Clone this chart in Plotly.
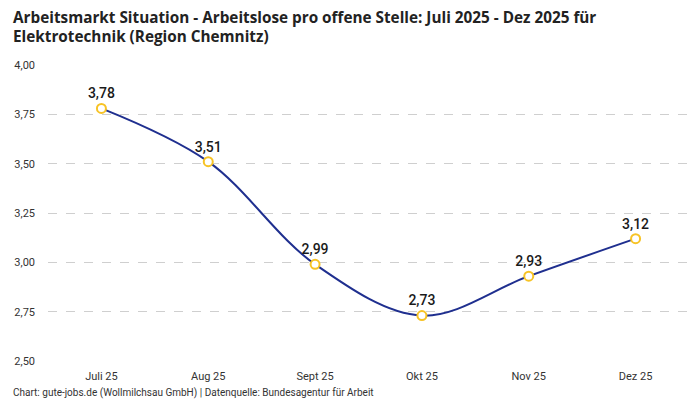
import plotly.graph_objects as go

months = ["Juli 25", "Aug 25", "Sept 25", "Okt 25", "Nov 25", "Dez 25"]
ratio = [3.78, 3.51, 2.99, 2.73, 2.93, 3.12]
y_ticks = [2.50, 2.75, 3.00, 3.25, 3.50, 3.75, 4.00]
title_lines = [
    "Arbeitsmarkt Situation - Arbeitslose pro offene Stelle: Juli 2025 - Dez 2025 für",
    "Elektrotechnik (Region Chemnitz)",
]

fmt = lambda v: f"{v:.2f}".replace(".", ",")

fig = go.Figure()
fig.add_trace(go.Scatter(
    x=months, y=ratio,
    mode="lines+markers+text",
    line=dict(color="#1f2f8f", width=2, shape="spline", smoothing=1),
    marker=dict(size=9, color="white", line=dict(color="#f7c325", width=2)),
    text=[fmt(v) for v in ratio],
    textposition="top center",
    textfont=dict(family="Roboto", size=14, color="#1a1a1a", weight=500),
    cliponaxis=False,
    showlegend=False,
))

# the page puts the figure 8px in from the top-left corner, margins allow for that
fig.update_layout(
    width=700, height=400,
    margin=dict(l=39.5, r=18.5, t=57, b=47, autoexpand=False),
    plot_bgcolor="white", paper_bgcolor="white",
    font=dict(family="Roboto", color="#333"),
    xaxis=dict(
        range=[-0.5, 5.5], showgrid=False, showline=False, ticks="",
        ticklabelstandoff=7,
        tickfont=dict(size=11, color="#333"), automargin=False,
    ),
    yaxis=dict(
        range=[2.5, 4.0], tickvals=y_ticks, ticktext=[fmt(v) for v in y_ticks],
        showgrid=True, gridcolor="#cfcfcf", griddash="dash", gridwidth=1,
        zeroline=False, showline=False, ticks="", ticklabelstandoff=12,
        tickfont=dict(size=11, color="#333"), automargin=False,
    ),
)

# title: one annotation per line so the line gap matches
for i, line in enumerate(title_lines):
    fig.add_annotation(
        text=f"<b>{line}</b>",
        xref="paper", yref="paper", x=-0.058, y=1.203 - i * 0.065,
        xanchor="left", yanchor="top", align="left", showarrow=False,
        font=dict(family="Open Sans", size=15.3, color="#222"),
    )

fig.add_annotation(
    text="Chart: gute-jobs.de (Wollmilchsau GmbH) | Datenquelle: Bundesagentur für Arbeit",
    xref="paper", yref="paper", x=-0.058, y=-0.108, xanchor="left", yanchor="middle",
    showarrow=False, font=dict(size=10, color="#333"),
)

fig.write_html("out.html")
